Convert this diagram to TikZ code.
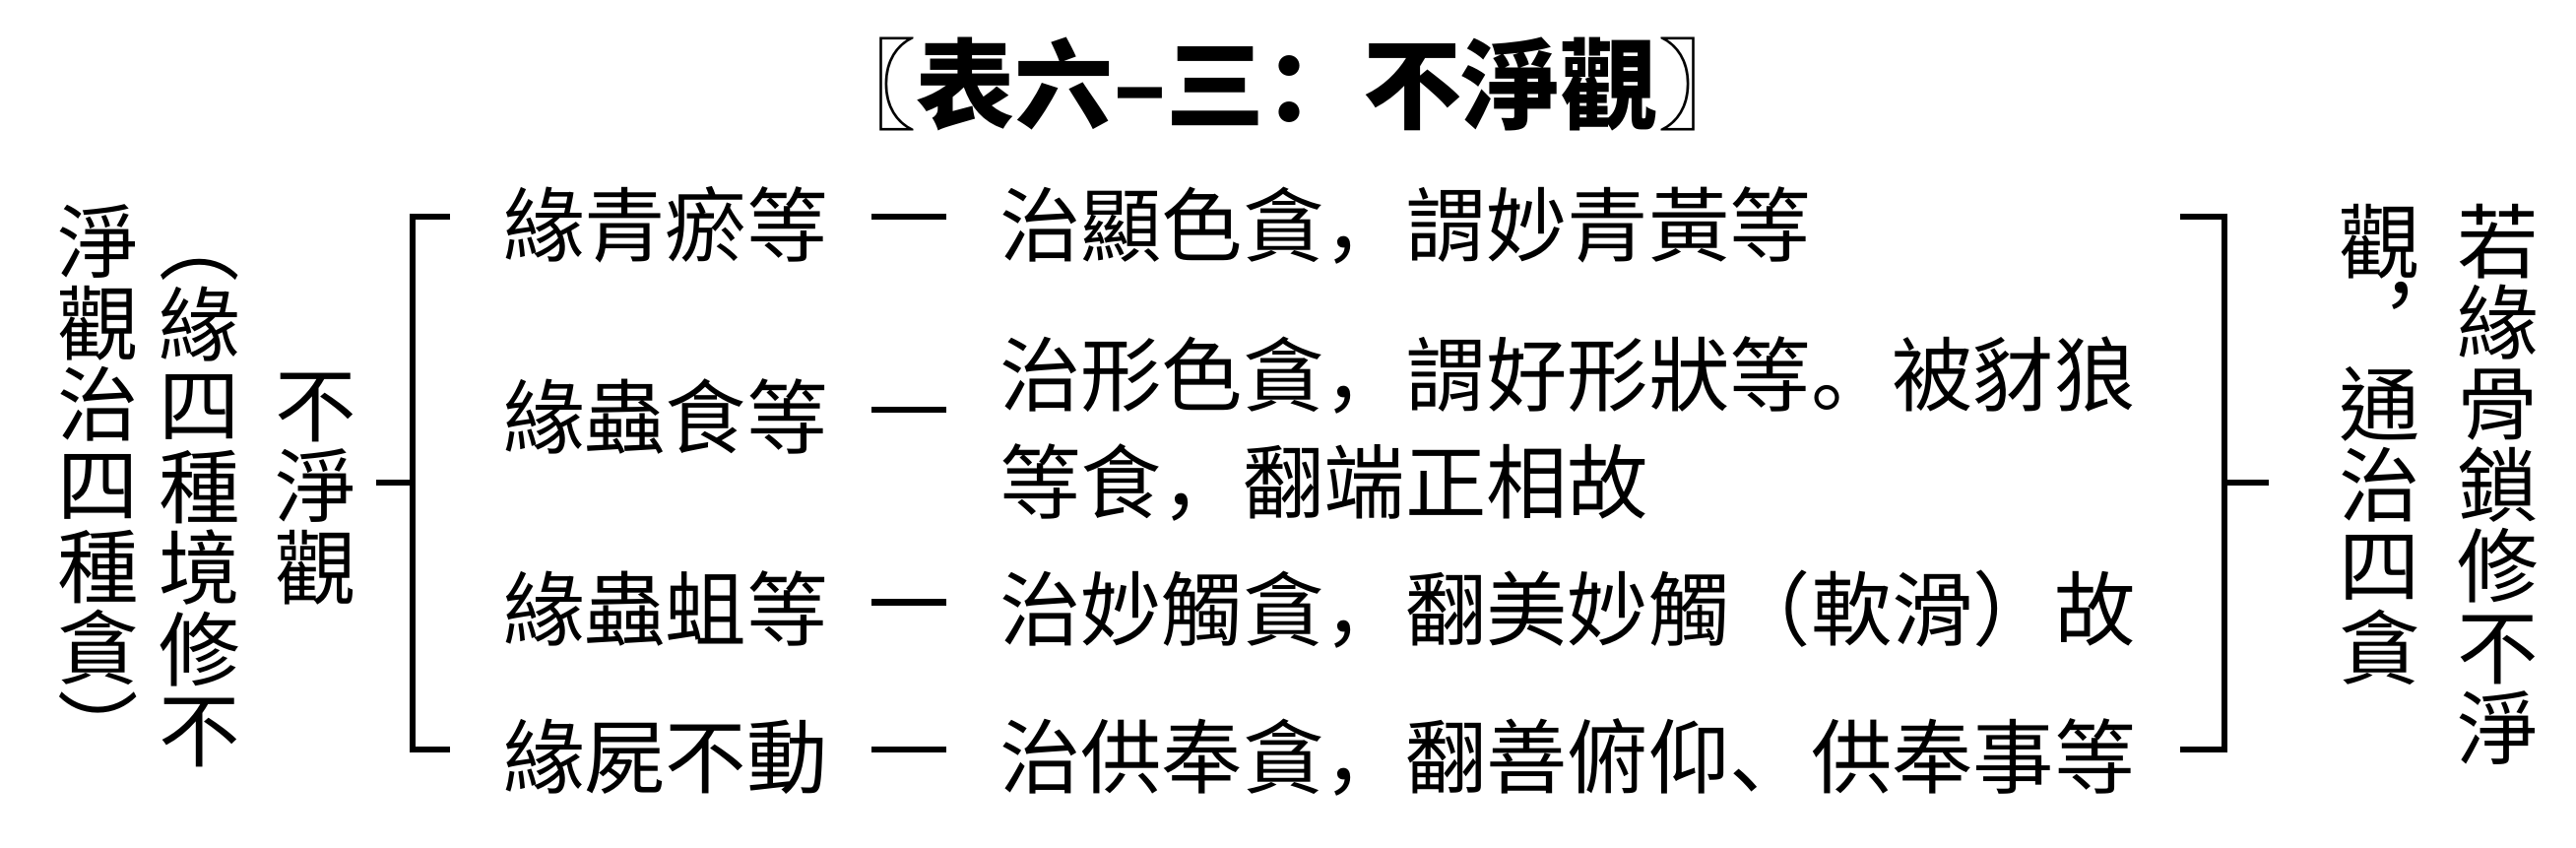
\documentclass[tikz,border=0pt]{standalone}
\usepackage{fontspec}
\newfontfamily\tcfont{Noto Sans CJK TC}
\newfontfamily\scfont{Noto Sans CJK SC}
\newcommand\cjs{\rule[-0.12em]{0pt}{1em}}
\newcommand\pu[1]{{\scfont #1}}
\newcommand\bodyfont{\tcfont\fontsize{82.4}{82.4}\selectfont\lineskiplimit=-20pt\lineskip=0pt}
\newcommand\twofont{\tcfont\fontsize{82.4}{109}\selectfont\lineskiplimit=-20pt\lineskip=0pt}
\newcommand\titlefont{\tcfont\bfseries\fontsize{100}{100}\selectfont}
\begin{document}
\begin{tikzpicture}[x=1pt,y=-1pt,
  body/.style={inner sep=0pt, outer sep=0pt, font=\bodyfont},
  col/.style={body, align=center},
  row/.style={body, anchor=west},
  ttl/.style={inner sep=0pt, outer sep=0pt, font=\titlefont},
  ln/.style={line width=6.5pt, line join=miter, line cap=butt},
]
\fill[white] (0,0) rectangle (2616,860);
\useasboundingbox (0,0) rectangle (2616,860);

% title
\node[ttl] (title) at (1307.5,85) {\cjs 〖表六–三\pu{：}不淨觀〗};

% left vertical columns
\node[col] (c1) at (100,492.5) {\cjs 淨\\\cjs 觀\\\cjs 治\\\cjs 四\\\cjs 種\\\cjs 貪\\\cjs ︶};
\node[col] (c2) at (203,494) {\cjs ︵\\\cjs 緣\\\cjs 四\\\cjs 種\\\cjs 境\\\cjs 修\\\cjs 不};
\node[col] (c3) at (321,493.5) {\cjs 不\\\cjs 淨\\\cjs 觀};

% right vertical columns
\node[col] (c4) at (2417,451) {\cjs 觀\\\cjs \pu{︐}\\\cjs 通\\\cjs 治\\\cjs 四\\\cjs 貪};
\node[col] (c5) at (2537,492) {\cjs 若\\\cjs 緣\\\cjs 骨\\\cjs 鎖\\\cjs 修\\\cjs 不\\\cjs 淨};

% row labels
\node[row] (l1) at (511,228) {\cjs 緣青瘀等};
\node[row] (l2) at (511,423) {\cjs 緣蟲食等};
\node[row] (l3) at (511,618) {\cjs 緣蟲蛆等};
\node[row] (l4) at (511,768) {\cjs 緣屍不動};

% row texts
\node[row] (r1) at (1015,228) {\cjs 治顯色貪\pu{，}謂妙青黃等};
\node[row, align=left, font=\twofont] (r2) at (1015,434.5) {\cjs 治形色貪\pu{，}謂好形狀等\pu{。}被豺狼\\\cjs 等食\pu{，}翻端正相故};
\node[row] (r3) at (1015,618) {\cjs 治妙觸貪\pu{，}翻美妙觸（軟滑）故};
\node[row] (r4) at (1015,768) {\cjs 治供奉貪\pu{，}翻善俯仰\pu{、}供奉事等};

% left bracket
\coordinate (lbt) at (457,220);
\coordinate (lbb) at (457,761);
\coordinate (lbs) at (382,490);
\draw[ln] (lbt) -- (419,220) -- (419,761) -- (lbb);
\draw[ln] (lbs) -- (419,490);

% right bracket
\coordinate (rbt) at (2214,220);
\coordinate (rbb) at (2214,761);
\coordinate (rbs) at (2304,490);
\draw[ln] (rbt) -- (2259,220) -- (2259,761) -- (rbb);
\draw[ln] (rbs) -- (2259,490);

% dashes between labels and texts
\draw[ln] (885,220) -- (961,220);
\draw[ln] (885,416) -- (961,416);
\draw[ln] (885,611.5) -- (961,611.5);
\draw[ln] (885,761) -- (961,761);
\end{tikzpicture}
\end{document}
